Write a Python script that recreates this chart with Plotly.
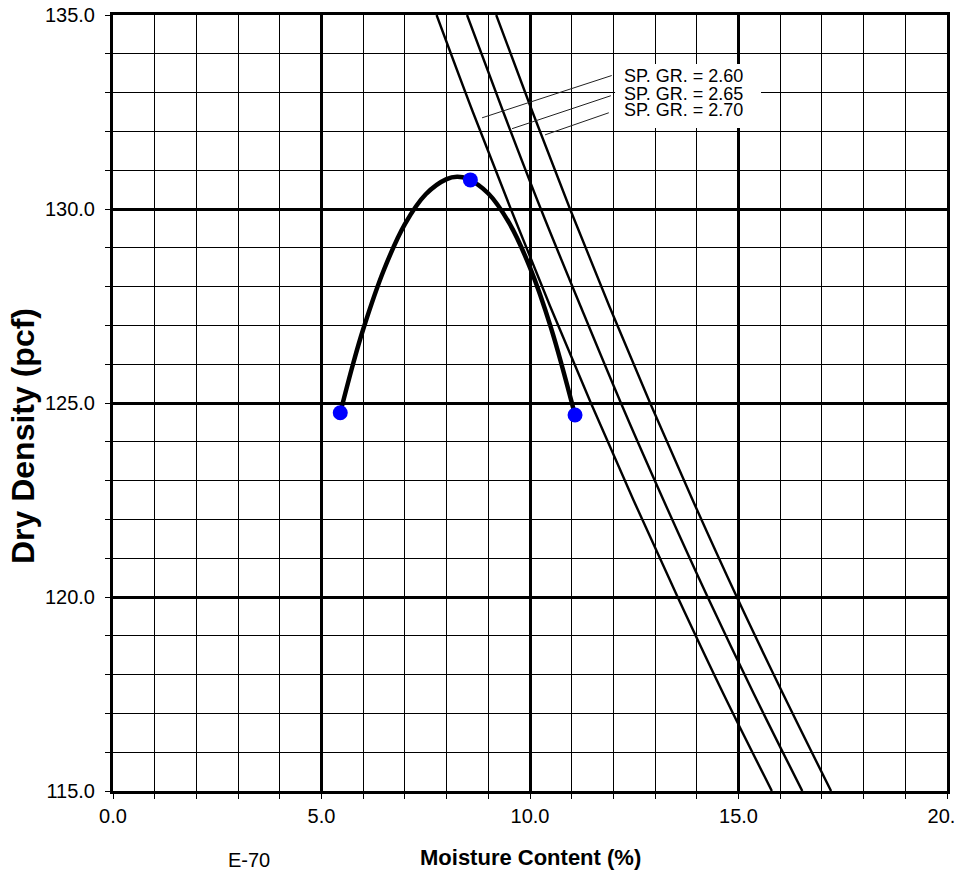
import plotly.graph_objects as go

# ---- data ----
# compaction test points (moisture %, dry density pcf)
test_moisture = [5.45, 8.57, 11.08]
test_density = [124.75, 130.75, 124.69]

# fitted compaction curve
curve_moisture = [5.45, 5.75, 6.0, 6.5, 7.0, 7.5, 8.0, 8.25, 8.5, 9.0, 9.5, 10.0, 10.5, 11.08]
curve_density = [124.75, 125.98, 126.90, 128.44, 129.61, 130.38, 130.77, 130.83, 130.78,
                 130.40, 129.64, 128.49, 126.95, 124.69]

# zero-air-voids lines for three specific gravities
zav_density = [115.0, 117.5, 120.0, 122.5, 125.0, 127.5, 130.0, 132.5, 135.0]
zav_moisture_260 = [15.80, 14.64, 13.54, 12.48, 11.46, 10.48, 9.54, 8.63, 7.76]
zav_moisture_265 = [16.53, 15.37, 14.26, 13.20, 12.18, 11.21, 10.26, 9.36, 8.49]
zav_moisture_270 = [17.22, 16.07, 14.96, 13.90, 12.88, 11.90, 10.96, 10.06, 9.19]
zav_labels = ["SP. GR. = 2.60", "SP. GR. = 2.65", "SP. GR. = 2.70"]

# leader lines from labels to curves
leader_x = [[11.96, 8.85], [11.94, 9.57], [11.89, 10.36]]
leader_y = [[133.44, 132.35], [132.92, 132.07], [132.48, 131.91]]
label_x = 12.23
label_y = [133.42, 132.97, 132.54]

x_tickvals = [0, 5, 10, 15, 20]
x_ticktext = ["0.0", "5.0", "10.0", "15.0", "20.\u00a0\u00a0"]
y_tickvals = [115, 120, 125, 130, 135]
y_ticktext = ["115.0", "120.0", "125.0", "130.0", "135.0"]

FONT = "Arial, Liberation Sans, sans-serif"

fig = go.Figure()

for xs in (zav_moisture_260, zav_moisture_265, zav_moisture_270):
    fig.add_trace(go.Scatter(x=xs, y=zav_density, mode="lines",
                             line=dict(color="black", width=2.4, shape="spline"),
                             hoverinfo="skip"))

for lx, ly in zip(leader_x, leader_y):
    fig.add_trace(go.Scatter(x=lx, y=ly, mode="lines",
                             line=dict(color="#222222", width=1), hoverinfo="skip"))

fig.add_trace(go.Scatter(x=curve_moisture, y=curve_density, mode="lines",
                         line=dict(color="black", width=4.5, shape="spline")))

fig.add_trace(go.Scatter(x=test_moisture, y=test_density, mode="markers",
                         marker=dict(color="#0000FF", size=15, line=dict(width=0))))

# white background behind the labels
fig.add_shape(type="rect", xref="x", yref="y", x0=12.04, x1=15.54, y0=132.09, y1=133.74,
              fillcolor="white", line=dict(width=0), layer="above")

for t, yy in zip(zav_labels, label_y):
    fig.add_annotation(x=label_x, y=yy, xref="x", yref="y", text=t, showarrow=False,
                       xanchor="left", yanchor="middle", borderpad=0,
                       font=dict(family=FONT, size=18, color="black"))

fig.add_annotation(x=0.5, y=-0.0863, xref="paper", yref="paper",
                   text="<b>Moisture Content (%)</b>", showarrow=False,
                   xanchor="center", yanchor="middle",
                   font=dict(family=FONT, size=22, color="black"))
fig.add_annotation(x=-0.1085, y=0.4568, xref="paper", yref="paper",
                   text="<b>Dry Density (pcf)</b>", showarrow=False, textangle=-90,
                   xanchor="center", yanchor="middle",
                   font=dict(family=FONT, size=32, color="black"))
fig.add_annotation(x=0.1631, y=-0.1050, xref="paper", yref="paper",
                   text="E-70", showarrow=False, xanchor="center", yanchor="bottom",
                   borderpad=0,
                   font=dict(family=FONT, size=20, color="black"))

axis_common = dict(
    showgrid=True, gridcolor="black", gridwidth=2.5,
    showline=True, linecolor="black", linewidth=3, mirror=True,
    ticks="outside", ticklen=5, tickcolor="black", tickwidth=1,
    zeroline=False,
    tickfont=dict(family=FONT, size=20, color="black"),
    minor=dict(dtick=1, showgrid=True, gridcolor="black", gridwidth=1,
               ticks="outside", ticklen=5, tickcolor="black", tickwidth=1),
)

fig.update_layout(
    width=967, height=873,
    margin=dict(l=113, r=20, t=15, b=82, autoexpand=False),
    paper_bgcolor="white", plot_bgcolor="white",
    showlegend=False,
    xaxis=dict(range=[0, 20], tickmode="array", tickvals=x_tickvals, ticktext=x_ticktext,
               automargin=False, **axis_common),
    yaxis=dict(range=[115, 135], tickmode="array", tickvals=y_tickvals, ticktext=y_ticktext,
               automargin=False, ticklabelstandoff=6, **axis_common),
)

fig.write_html("out.html")
